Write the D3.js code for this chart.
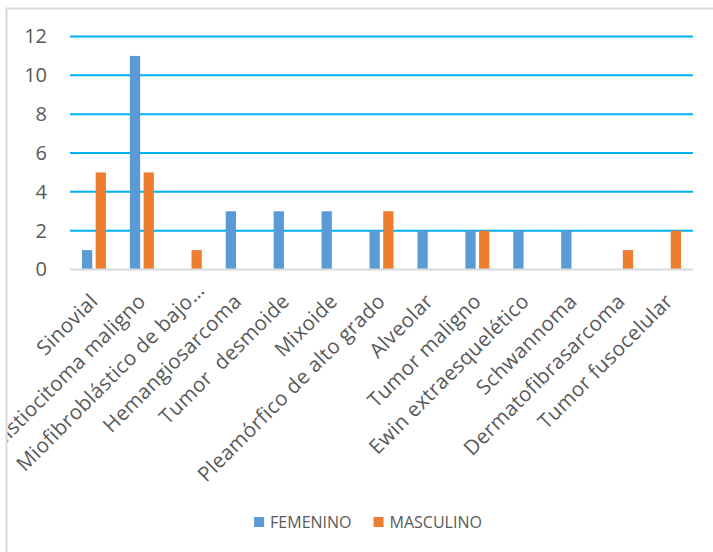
<!DOCTYPE html>
<html>
<head>
<meta charset="utf-8">
<script src="https://cdn.jsdelivr.net/npm/d3@7"></script>
<style>
  html, body { margin: 0; padding: 0; background: #fff; }
  svg { display: block; font-family: "Open Sans", "DejaVu Sans", sans-serif; }
</style>
</head>
<body>
<svg id="chart" width="713" height="552"></svg>
<script>
// Tumour types (x-axis categories)
const categories = [
  "Sinovial",
  "Histiocitoma maligno",
  "Miofibroblástico de bajo…",
  "Hemangiosarcoma",
  "Tumor  desmoide",
  "Mixoide",
  "Pleamórfico de alto grado",
  "Alveolar",
  "Tumor maligno",
  "Ewin extraesquelético",
  "Schwannoma",
  "Dermatofibrasarcoma",
  "Tumor fusocelular"
];

// Case counts by sex
const seriesNames = ["FEMENINO", "MASCULINO"];
const femenino  = [1, 11, 0, 3, 3, 3, 2, 2, 2, 2, 2, 0, 0];
const masculino = [5,  5, 1, 0, 0, 0, 3, 0, 2, 0, 0, 1, 2];

// Y-axis ticks
const yTicks = [0, 2, 4, 6, 8, 10, 12];

const colors = { FEMENINO: "#5B9BD5", MASCULINO: "#ED7D31" };
const textColor = "#595959";

const svg = d3.select("#chart");
const W = 713, H = 552;
const plot = { left: 70, right: 693, top: 36.5, bottom: 269.5 };

// Chart-area frame
svg.append("rect")
  .attr("x", 6.5).attr("y", 8.5)
  .attr("width", W + 20).attr("height", H + 20)
  .attr("fill", "#fff")
  .attr("stroke", "#D9D9D9").attr("stroke-width", 2);

const x0 = d3.scaleBand()
  .domain(categories)
  .range([plot.left, plot.right])
  .paddingInner(0.5)
  .paddingOuter(0.25);

const x1 = d3.scaleBand()
  .domain(seriesNames)
  .range([0, x0.bandwidth()])
  .paddingInner(0.25);

const y = d3.scaleLinear()
  .domain([0, 12])
  .range([plot.bottom, plot.top]);

// Horizontal gridlines
svg.append("g")
  .selectAll("line")
  .data(yTicks.filter(t => t > 0))
  .join("line")
  .attr("x1", plot.left).attr("x2", plot.right)
  .attr("y1", d => y(d)).attr("y2", d => y(d))
  .attr("stroke", "#00B0F0").attr("stroke-width", 2);

// Y axis labels
const yAxis = d3.axisLeft(y).tickValues(yTicks).tickSize(0).tickPadding(0);
const yg = svg.append("g")
  .attr("transform", `translate(${plot.left - 23},0)`)
  .call(yAxis);
yg.select(".domain").remove();
yg.selectAll("text")
  .attr("fill", textColor)
  .style("font-size", "20px")
  .style("font-family", '"Open Sans", sans-serif');

// Bars
const data = categories.map((c, i) => ({
  category: c,
  values: [
    { key: "FEMENINO", value: femenino[i] },
    { key: "MASCULINO", value: masculino[i] }
  ]
}));

svg.append("g")
  .selectAll("g")
  .data(data)
  .join("g")
  .attr("transform", d => `translate(${x0(d.category)},0)`)
  .selectAll("rect")
  .data(d => d.values.filter(v => v.value > 0))
  .join("rect")
  .attr("x", d => x1(d.key))
  .attr("width", x1.bandwidth())
  .attr("y", d => y(d.value))
  .attr("height", d => y(0) - y(d.value))
  .attr("fill", d => colors[d.key]);

// Baseline
svg.append("line")
  .attr("x1", plot.left).attr("x2", plot.right)
  .attr("y1", y(0)).attr("y2", y(0))
  .attr("stroke", "#D9D9D9").attr("stroke-width", 2);

// Category labels, rotated 45°, clipped to the chart area frame
svg.append("clipPath").attr("id", "frameClip")
  .append("rect").attr("x", 7.5).attr("y", 9.5).attr("width", W).attr("height", H);

const xg = svg.append("g")
  .attr("clip-path", "url(#frameClip)")
  .attr("transform", `translate(0,${y(0)})`)
  .call(d3.axisBottom(x0).tickSize(0).tickPadding(0));
xg.select(".domain").remove();
xg.selectAll(".tick text")
  .attr("fill", textColor)
  .style("font-size", "20.5px")
  .style("letter-spacing", "0.35px")
  .style("font-family", '"Open Sans", sans-serif')
  .style("white-space", "pre")
  .attr("text-anchor", "end")
  .attr("y", 0)
  .attr("dy", "0.35em")
  .attr("dx", d => d.endsWith("…") ? "0.75em" : "0")
  .attr("transform", "translate(0,28) rotate(-45)");

// Legend
const legend = svg.append("g");
let lx = 0;
seriesNames.forEach((name, i) => {
  const g = legend.append("g").attr("transform", `translate(${lx},0)`);
  g.append("rect")
    .attr("x", 0).attr("y", -11)
    .attr("width", 10).attr("height", 10)
    .attr("fill", colors[name]);
  const t = g.append("text")
    .attr("x", 16).attr("y", 0)
    .attr("fill", textColor)
    .style("font-size", "16px")
    .text(name);
  lx += 16 + t.node().getComputedTextLength() + 22;
});
const legendWidth = lx - 22;
legend.attr("transform", `translate(${368 - legendWidth / 2},528)`);
</script>
</body>
</html>
